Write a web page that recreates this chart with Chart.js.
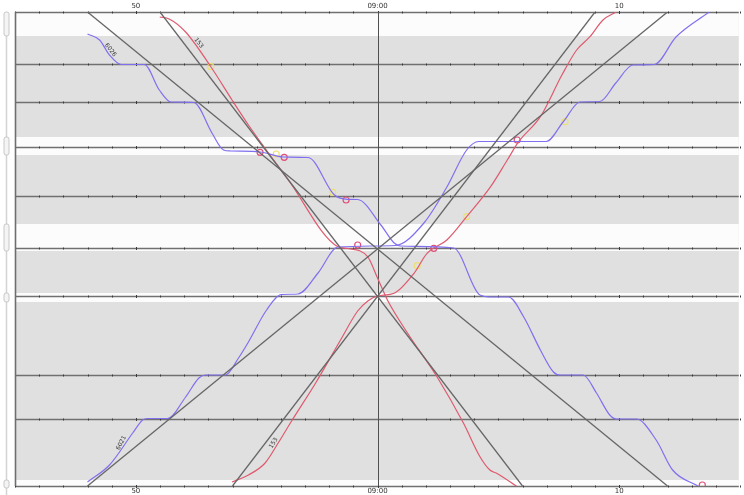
<!DOCTYPE html>
<html>
<head>
<meta charset="utf-8">
<script src="https://cdn.jsdelivr.net/npm/chart.js@4.4.1/dist/chart.umd.min.js"></script>
<style>
html, body { margin: 0; padding: 0; background: #ffffff; }
</style>
</head>
<body>
<canvas id="graph" width="744" height="495"></canvas>
<script>
// time = minutes after 08:00, pos = position along the line (top station = 0)
const timeTicks = [50, 60, 70];
const timeLabels = ['50', '09:00', '10'];
const stationLines = [0, 52, 90, 135, 184, 236, 284, 363, 407, 474];
const platformZones = [[0, 24], [125, 143], [212, 239], [281, 290], [468, 474]];

// planned paths (straight)
const planA = [[48, 0], [72, 474]];
const planB = [[51, 0], [66, 474]];
const planC = [[48, 474], [72, 0]];
const planD = [[54, 474], [69, 0]];

// actual runs
const train6026 = [[48.0, 22], [48.5, 28], [48.91, 43], [49.39, 52.5], [50.35, 52.5], [50.97, 78], [51.45, 90],
    [52.4, 90.5], [53.15, 121], [53.63, 138], [53.92, 139], [55.15, 140], [56.1, 145], [57.13, 145.5],
    [58.22, 183], [58.77, 187.3], [59.18, 187.5], [60.14, 213], [60.69, 231], [60.96, 234], [63.15, 236],
    [64.24, 283], [64.72, 285], [65.42, 285], [66.05, 305], [66.74, 338], [67.28, 360], [67.56, 363],
    [68.51, 363], [69.06, 381], [69.61, 403], [69.88, 407], [70.71, 407], [71.53, 428], [72.21, 458], [73.31, 474.7]];
const train6021 = [[48.0, 470], [48.91, 453], [49.87, 421], [50.28, 408], [50.48, 406.5], [51.31, 406.5],
    [52.06, 385], [52.61, 366], [52.88, 363], [53.7, 363], [54.25, 346], [54.66, 330], [55.41, 298],
    [56.03, 282.5], [56.71, 282], [57.54, 261], [58.36, 235], [60.74, 233.5], [61.92, 211], [62.87, 175],
    [63.69, 138], [64.19, 129.5], [66.98, 129.5], [67.68, 110], [68.38, 90], [69.2, 89.5], [69.86, 71],
    [70.57, 53], [71.46, 52.5], [72.35, 25], [73.72, 0]];
const train153down = [[50.99, 5], [51.38, 7], [52.06, 20], [53.11, 55], [53.98, 88], [54.66, 113], [56.31, 168],
    [58.36, 234.7], [58.77, 236.5], [59.59, 244.7], [60.0, 266], [60.41, 288], [61.24, 321], [62.46, 364.7],
    [63.56, 411.3], [64.24, 444.7], [64.65, 458], [64.93, 461.3], [65.78, 474.7]];
const train153up = [[53.98, 470], [54.66, 463], [55.35, 451], [55.89, 431], [56.42, 410], [57.44, 371],
    [58.47, 328], [59.18, 299], [59.6, 289], [60.0, 284], [60.69, 281.3], [61.51, 261.3], [62.05, 241.3],
    [62.87, 228], [63.69, 204.7], [64.68, 174.7], [65.37, 148], [65.84, 129.7], [66.74, 104.7], [67.63, 63],
    [68.24, 38], [68.79, 24.7], [69.33, 8], [69.88, 0]];

// event markers
const pinkMarks = [[55.14, 140.3], [56.14, 145.3], [58.7, 188], [59.18, 233], [62.33, 236.3], [65.78, 128], [73.44, 473]];
const yellowMarks = [[53.1, 54.7], [55.81, 142], [58.15, 180.3], [61.64, 253.7], [63.69, 204.7], [67.76, 109.7]];

// train number labels: [text, time, pos, angle]
const trainLabels = [['6026', 48.95, 38, 52], ['153', 52.6, 31, 52], ['6021', 49.4, 431, -62], ['153', 55.7, 431, -60]];

const toPts = arr => arr.map(p => ({x: p[0], y: p[1]}));

function lineSet(arr, color, width, smooth) {
    return {
        type: 'line',
        data: toPts(arr),
        borderColor: color,
        borderWidth: width,
        pointRadius: 0,
        fill: false,
        cubicInterpolationMode: smooth ? 'monotone' : 'default',
        tension: 0
    };
}

function markSet(arr, color, r) {
    return {
        type: 'scatter',
        data: toPts(arr),
        pointRadius: r,
        pointBorderColor: color,
        pointBackgroundColor: 'rgba(0,0,0,0)',
        pointBorderWidth: 1.2
    };
}

const backdrop = {
    id: 'backdrop',
    beforeDatasetsDraw(chart) {
        const ctx = chart.ctx;
        const a = chart.chartArea;
        const xs = chart.scales.x;
        const ys = chart.scales.y;
        ctx.save();
        ctx.fillStyle = '#e0e0e0';
        ctx.fillRect(a.left, a.top, a.right - a.left, a.bottom - a.top);
        ctx.fillStyle = '#fcfcfc';
        platformZones.forEach(z => {
            const y1 = ys.getPixelForValue(z[0]);
            const y2 = ys.getPixelForValue(z[1]);
            ctx.fillRect(a.left, y1, a.right - a.left, y2 - y1);
        });
        // station lines with minute ticks
        stationLines.forEach(s => {
            const y = Math.round(ys.getPixelForValue(s)) + 0.5;
            ctx.strokeStyle = '#707070';
            ctx.lineWidth = 1.6;
            ctx.beginPath();
            ctx.moveTo(a.left, y);
            ctx.lineTo(a.right, y);
            ctx.stroke();
            ctx.strokeStyle = '#3a3a3a';
            ctx.lineWidth = 1;
            for (let m = 45; m <= 75; m++) {
                const x = Math.round(xs.getPixelForValue(m)) + 0.5;
                const h = m % 10 === 0 ? 1.5 : 1;
                ctx.beginPath();
                ctx.moveTo(x, y - h);
                ctx.lineTo(x, y + h);
                ctx.stroke();
            }
        });
        // 09:00 line
        const x0 = Math.round(xs.getPixelForValue(60)) + 0.5;
        ctx.strokeStyle = '#505050';
        ctx.lineWidth = 1;
        ctx.beginPath();
        ctx.moveTo(x0, a.top);
        ctx.lineTo(x0, a.bottom);
        ctx.stroke();
        // left axis
        ctx.strokeStyle = '#6e6e6e';
        ctx.lineWidth = 1.6;
        ctx.beginPath();
        ctx.moveTo(a.left + 0.5, a.top);
        ctx.lineTo(a.left + 0.5, a.bottom);
        ctx.stroke();
        ctx.restore();
    },
    afterDatasetsDraw(chart) {
        const ctx = chart.ctx;
        const xs = chart.scales.x;
        const ys = chart.scales.y;
        ctx.save();
        ctx.fillStyle = '#333';
        ctx.font = '6px "DejaVu Sans"';
        ctx.textAlign = 'center';
        ctx.textBaseline = 'middle';
        trainLabels.forEach(l => {
            ctx.save();
            ctx.translate(xs.getPixelForValue(l[1]), ys.getPixelForValue(l[2]));
            ctx.rotate(l[3] * Math.PI / 180);
            ctx.fillText(l[0], 0, 0);
            ctx.restore();
        });
        ctx.restore();
    },
    afterDraw(chart) {
        const ctx = chart.ctx;
        const a = chart.chartArea;
        const xs = chart.scales.x;
        const ys = chart.scales.y;
        ctx.save();
        ctx.fillStyle = '#333';
        ctx.font = '7px "DejaVu Sans"';
        ctx.textAlign = 'center';
        ctx.textBaseline = 'middle';
        timeTicks.forEach((t, i) => {
            const x = xs.getPixelForValue(t);
            ctx.fillText(timeLabels[i], x, a.top - 6);
            ctx.fillText(timeLabels[i], x, a.bottom + 5);
        });
        // station strip on the left
        ctx.strokeStyle = '#d4d4d4';
        ctx.lineWidth = 1.5;
        ctx.beginPath();
        ctx.moveTo(6.5, a.top);
        ctx.lineTo(6.5, chart.height);
        ctx.stroke();
        platformZones.forEach(z => {
            const y1 = ys.getPixelForValue(z[0]);
            const y2 = Math.max(ys.getPixelForValue(z[1]), y1 + 8);
            ctx.fillStyle = '#f4f4f4';
            ctx.strokeStyle = '#c8c8c8';
            ctx.lineWidth = 1;
            ctx.beginPath();
            ctx.roundRect(4, y1, 5, y2 - y1, 2);
            ctx.fill();
            ctx.stroke();
        });
        ctx.restore();
    }
};

new Chart(document.getElementById('graph'), {
    data: {
        datasets: [
            lineSet(planA, '#666666', 1.3, false),
            lineSet(planB, '#666666', 1.3, false),
            lineSet(planC, '#666666', 1.3, false),
            lineSet(planD, '#666666', 1.3, false),
            lineSet(train6026, '#8070f0', 1.2, true),
            lineSet(train6021, '#8070f0', 1.2, true),
            lineSet(train153down, '#e05a6e', 1.2, true),
            lineSet(train153up, '#e05a6e', 1.2, true),
            markSet(yellowMarks, '#ece070', 3),
            markSet(pinkMarks, '#e0507a', 3)
        ]
    },
    options: {
        responsive: false,
        animation: false,
        events: [],
        layout: {padding: {left: 15, top: 12, right: 0, bottom: 9}},
        plugins: {legend: {display: false}, tooltip: {enabled: false}},
        scales: {
            x: {type: 'linear', min: 45, max: 74.95, display: false},
            y: {type: 'linear', min: 0, max: 474, reverse: true, display: false}
        }
    },
    plugins: [backdrop]
});
</script>
</body>
</html>
